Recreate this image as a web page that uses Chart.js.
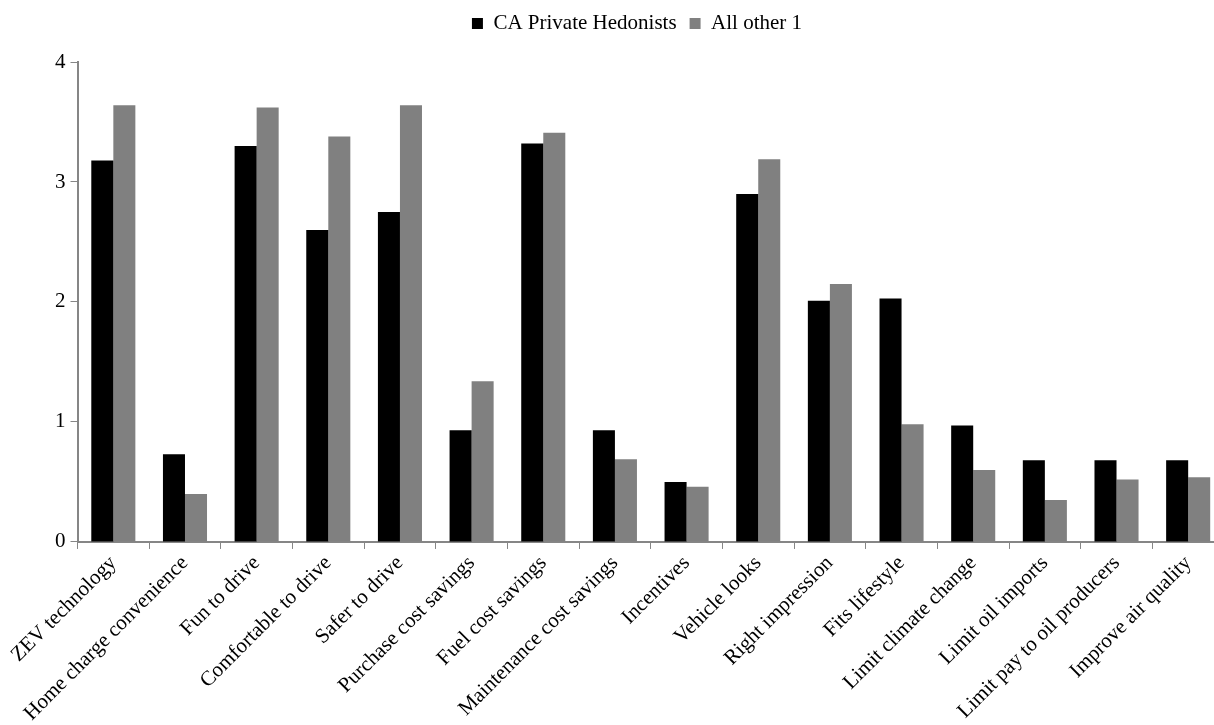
<!DOCTYPE html>
<html>
<head>
<meta charset="utf-8">
<script src="https://cdn.jsdelivr.net/npm/chart.js@4"></script>
<style>
  html, body { margin: 0; padding: 0; background: #fff; overflow: hidden; }
  #wrap { position: relative; width: 1224px; height: 728px; }
</style>
</head>
<body>
<div id="wrap"><canvas id="barChart"></canvas></div>
<script>
const categories = [
  'ZEV technology', 'Home charge convenience', 'Fun to drive', 'Comfortable to drive',
  'Safer to drive', 'Purchase cost savings', 'Fuel cost savings', 'Maintenance cost savings',
  'Incentives', 'Vehicle looks', 'Right impression', 'Fits lifestyle',
  'Limit climate change', 'Limit oil imports', 'Limit pay to oil producers', 'Improve air quality'
];
const hedonists = [3.18, 0.73, 3.30, 2.60, 2.75, 0.93, 3.32, 0.93, 0.50, 2.90, 2.01, 2.03, 0.97, 0.68, 0.68, 0.68];
const allOther = [3.64, 0.40, 3.62, 3.38, 3.64, 1.34, 3.41, 0.69, 0.46, 3.19, 2.15, 0.98, 0.60, 0.35, 0.52, 0.54];
const yTicks = [0, 1, 2, 3, 4];

const serif = "'Liberation Serif', 'Times New Roman', serif";
const axisGray = '#868686';

// push the plot a bit further below the legend
const legendGap = {
  id: 'legendGap',
  beforeInit(chart) {
    const fit = chart.legend.fit;
    chart.legend.fit = function () {
      fit.bind(chart.legend)();
      this.height += 18;
    };
  }
};

const ctx = document.getElementById('barChart').getContext('2d');
new Chart(ctx, {
  type: 'bar',
  data: {
    labels: categories,
    datasets: [
      { label: 'CA Private Hedonists', data: hedonists, backgroundColor: '#000000' },
      { label: 'All other 1', data: allOther, backgroundColor: '#808080' }
    ]
  },
  options: {
    responsive: true,
    maintainAspectRatio: false,
    animation: false,
    datasets: { bar: { categoryPercentage: 0.615, barPercentage: 1.0 } },
    layout: { padding: { top: 0, left: 50, right: 0, bottom: 0 } },
    plugins: {
      tooltip: { enabled: false },
      legend: {
        position: 'top',
        labels: {
          boxWidth: 11,
          boxHeight: 11,
          color: '#000',
          padding: 13,
          font: { family: serif, size: 21 }
        }
      }
    },
    scales: {
      x: {
        grid: { display: true, drawOnChartArea: false, color: axisGray, tickLength: 7, offset: true },
        border: { color: axisGray, width: 2 },
        ticks: {
          color: '#000',
          minRotation: 45,
          maxRotation: 45,
          autoSkip: false,
          padding: 2,
          font: { family: serif, size: 21 }
        }
      },
      y: {
        min: 0,
        max: 4,
        afterBuildTicks: axis => { axis.ticks = yTicks.map(v => ({ value: v })); },
        grid: { display: true, drawOnChartArea: false, color: axisGray, tickLength: 7 },
        border: { color: axisGray, width: 2 },
        ticks: {
          color: '#000',
          padding: 5,
          font: { family: serif, size: 21 }
        }
      }
    }
  },
  plugins: [legendGap]
});
</script>
</body>
</html>
